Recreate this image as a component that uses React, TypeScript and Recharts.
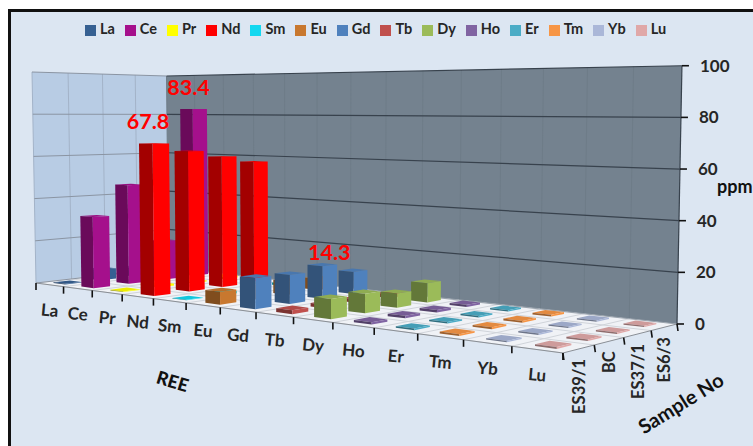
import * as React from 'react';
import { ScatterChart, Scatter, XAxis, YAxis, Legend, Customized } from 'recharts';

const elements = ['La', 'Ce', 'Pr', 'Nd', 'Sm', 'Eu', 'Gd', 'Tb', 'Dy', 'Ho', 'Er', 'Tm', 'Yb', 'Lu'];
const samples = ['ES39/1', 'BC', 'ES37/1', 'ES6/3'];
const yTicks = [0, 20, 40, 60, 80, 100];

// ppm per sample, front row to back row
const La = [0.3, 5, 4, 5];
const Ce = [33, 47, 18.6, 83.4];
const Pr = [0.3, 1, 0.5, 1];
const Nd = [67.8, 64, 61, 58];
const Sm = [0.2, 1, 1, 1];
const Eu = [5.5, 6.5, 6, 5];
const Gd = [13, 12.4, 14.3, 10];
const Tb = [1.6, 1.5, 1.5, 1.4];
const Dy = [8, 8, 6, 8.3];
const Ho = [0.9, 1, 1, 0.9];
const Er = [0.6, 0.6, 0.6, 0.6];
const Tm = [0.7, 0.7, 0.7, 0.7];
const Yb = [0.5, 0.5, 0.5, 0.5];
const Lu = [0.6, 0.6, 0.5, 0.5];

const ppmBySeries = [La, Ce, Pr, Nd, Sm, Eu, Gd, Tb, Dy, Ho, Er, Tm, Yb, Lu];
const colors = ['#366092', '#a5108c', '#ffff00', '#ff0000', '#13d8f0', '#c8782f', '#4f81bd', '#c0504d', '#9bbb59', '#8064a2', '#4bacc6', '#f79646', '#aab7d8', '#e0a8a8'];

const WIDTH = 753;
const HEIGHT = 446;
const PLOT = { left: 36, right: 680, top: 64, bottom: 323 };
const FONT = 'Lato, sans-serif';
const INK = '#262626';
const BAR_U = 0.43 / elements.length;
const BAR_W = 0.46 / samples.length;

// nudges for the three value labels, keyed by the value they print
const labelNudge: Record<number, [number, number]> = {
  67.8: [-6, -14],
  83.4: [-5, -14],
  14.3: [7, -5],
};

// perspective of the floor plus a height that shrinks with depth
const project = (u: number, w: number, h: number): [number, number] => {
  const d = 1 - 0.283 * u + 0.1 * w;
  const x = (36 + 367.6 * u + 149.5 * w) / d;
  const y = (283 - 29.9 * u + 11.6 * w) / d;
  const lean = -4 + (9 * (x - 36)) / 644;
  return [x + lean * h, y - (211 / d) * h];
};

const pts = (list: [number, number][]) => list.map((p) => p.map((n) => n.toFixed(1)).join(',')).join(' ');

const shade = (hex: string, k: number) => {
  const n = parseInt(hex.slice(1), 16);
  const c = [n >> 16, (n >> 8) & 255, n & 255].map((v) => Math.round(v * k));
  return `rgb(${c.join(',')})`;
};

function Box3D(props: any) {
  const { cx, cy, payload, fill } = props;
  if (cx == null || cy == null) return null;
  const u = (cx - PLOT.left) / (PLOT.right - PLOT.left);
  const h = (PLOT.bottom - cy) / (PLOT.bottom - PLOT.top);
  const w = (payload.row + 0.5) / samples.length;
  const u0 = u - BAR_U / 2, u1 = u + BAR_U / 2, w0 = w - BAR_W / 2, w1 = w + BAR_W / 2;
  const front: [number, number][] = [project(u0, w0, 0), project(u1, w0, 0), project(u1, w0, h), project(u0, w0, h)];
  const right: [number, number][] = [project(u1, w0, 0), project(u1, w1, 0), project(u1, w1, h), project(u1, w0, h)];
  const top: [number, number][] = [project(u0, w0, h), project(u1, w0, h), project(u1, w1, h), project(u0, w1, h)];
  const [tx, ty] = project(u, w, h);
  const nudge = labelNudge[payload.y];
  return (
    <g>
      <polygon points={pts(top)} fill={shade(fill, 0.92)} />
      <polygon points={pts(front)} fill={shade(fill, 0.64)} />
      <polygon points={pts(right)} fill={fill} />
      {nudge && (
        <text x={tx + nudge[0]} y={ty + nudge[1]} textAnchor="middle" fontFamily={FONT} fontWeight={700} fontSize={21.5} fill="#ff0000">
          {payload.y}
        </text>
      )}
    </g>
  );
}

function Room() {
  const n = elements.length;
  const m = samples.length;
  const line = (a: [number, number], b: [number, number], stroke: string, sw = 1, key?: string) => (
    <line key={key} x1={a[0]} y1={a[1]} x2={b[0]} y2={b[1]} stroke={stroke} strokeWidth={sw} />
  );
  return (
    <g>
      <polygon points={pts([project(0, 0, 0), project(0, 1, 0), project(0, 1, 1), project(0, 0, 1)])} fill="#b8cce4" />
      <polygon points={pts([project(0, 1, 0), project(1, 1, 0), project(1, 1, 1), project(0, 1, 1)])} fill="#74828f" />
      <polygon points={pts([project(0, 0, 0), project(1, 0, 0), project(1, 1, 0), project(0, 1, 0)])} fill="#f0f2f6" />
      {elements.map((_, i) => line(project(i / n, 0, 0), project(i / n, 1, 0), '#d0d4da', 1, `fu${i}`))}
      {samples.map((_, j) => line(project(0, j / m, 0), project(1, j / m, 0), '#d0d4da', 1, `fw${j}`))}
      {elements.map((_, i) => line(project(i / n, 1, 0), project(i / n, 1, 1), '#6e7c88', 1, `bv${i}`))}
      {samples.map((_, j) => line(project(0, j / m, 0), project(0, j / m, 1), '#a3b3c8', 1, `sv${j}`))}
      {yTicks.map((t) => (
        <g key={t}>
          {line(project(0, 0, t / 100), project(0, 1, t / 100), '#8b95a3')}
          {line(project(0, 1, t / 100), project(1, 1, t / 100), t === 0 ? '#9aa3ad' : '#38424d', 1.2)}
        </g>
      ))}
      {line(project(0, 0, 0), project(1, 0, 0), '#8a8f96')}
      {line(project(1, 0, 0), project(1, 1, 0), '#8a8f96')}
      {line(project(1, 1, 0), project(1, 1, 1), '#38424d', 1.2)}
      {Array.from({ length: n + 1 }, (_, i) => {
        const a = project(i / n, 0, 0);
        return line(a, [a[0], a[1] + 7], '#111', 1.6, `tx${i}`);
      })}
      {Array.from({ length: m + 1 }, (_, j) => {
        const a = project(1, j / m, 0);
        return line(a, [a[0] + 1, a[1] + 7], '#111', 1.6, `tz${j}`);
      })}
      {samples.map((s, j) => {
        const [x, y] = project(1, (j + 0.5) / m, 0);
        return (
          <text key={s} transform={`translate(${x + 6},${y + 10}) rotate(-90)`} textAnchor="end" fontFamily={FONT} fontWeight={700} fontSize={16.5} fill={INK}>
            {s}
          </text>
        );
      })}
      <text transform="translate(172,383) rotate(17)" textAnchor="middle" dominantBaseline="middle" fontFamily={FONT} fontWeight={900} fontSize={18} fill="#111">REE</text>
      <text transform="translate(682,405) rotate(-32)" textAnchor="middle" dominantBaseline="middle" fontFamily={FONT} fontWeight={700} fontSize={20} fill="#111">Sample No</text>
      <text x={717} y={193} fontFamily={FONT} fontWeight={700} fontSize={18} fill="#111">ppm</text>
    </g>
  );
}

function ElementTick(props: any) {
  const { x, payload } = props;
  const u = (x - PLOT.left) / (PLOT.right - PLOT.left);
  const [px, py] = project(u, 0, 0);
  return (
    <text transform={`translate(${px},${py + 27}) rotate(5)`} textAnchor="middle" dominantBaseline="middle" fontFamily={FONT} fontWeight={700} fontSize={17} fill={INK}>
      {elements[Math.floor(payload.value)]}
    </text>
  );
}

function PpmTick(props: any) {
  const { payload } = props;
  const [px, py] = project(1, 1, payload.value / 100);
  return (
    <g>
      <line x1={px} y1={py} x2={px + 7} y2={py} stroke="#111" strokeWidth={1.6} />
      <text x={px + 18} y={py + 6} fontFamily={FONT} fontWeight={700} fontSize={17} fill={INK}>
        {payload.value}
      </text>
    </g>
  );
}

export default function App() {
  return (
    <div style={{ position: 'absolute', left: 0, top: 0, width: WIDTH, height: HEIGHT, overflow: 'hidden', background: '#fff' }}>
      <div style={{ position: 'absolute', left: 8, top: 9, width: 800, height: 500, boxSizing: 'border-box', background: '#dce6f2', borderLeft: '3px solid #111', borderTop: '3px solid #111' }} />
      <div style={{ position: 'absolute', left: 0, top: 0 }}>
        <ScatterChart width={WIDTH} height={HEIGHT} margin={{ left: PLOT.left, right: 13, top: 49, bottom: 93 }}>
          <Customized component={Room} />
          <XAxis type="number" dataKey="x" domain={[0, elements.length]} ticks={elements.map((_, i) => i + 0.5)} axisLine={false} tickLine={false} tick={<ElementTick />} height={30} />
          <YAxis type="number" dataKey="y" orientation="right" domain={[0, 100]} ticks={yTicks} axisLine={false} tickLine={false} tick={<PpmTick />} width={60} />
          <Legend
            verticalAlign="top"
            iconSize={11}
            itemSorter={null as any}
            wrapperStyle={{ top: 20, left: 4, width: WIDTH, fontFamily: FONT, fontWeight: 700, fontSize: 14.5 }}
            formatter={(value: string) => <span style={{ color: INK }}>{value}</span>}
          />
          {elements.map((el, i) => (
            <Scatter
              key={el}
              name={el}
              legendType="square"
              fill={colors[i]}
              isAnimationActive={false}
              data={ppmBySeries[i].map((y, row) => ({ x: i + 0.5, y, row })).reverse()}
              shape={<Box3D />}
            />
          ))}
        </ScatterChart>
      </div>
    </div>
  );
}
